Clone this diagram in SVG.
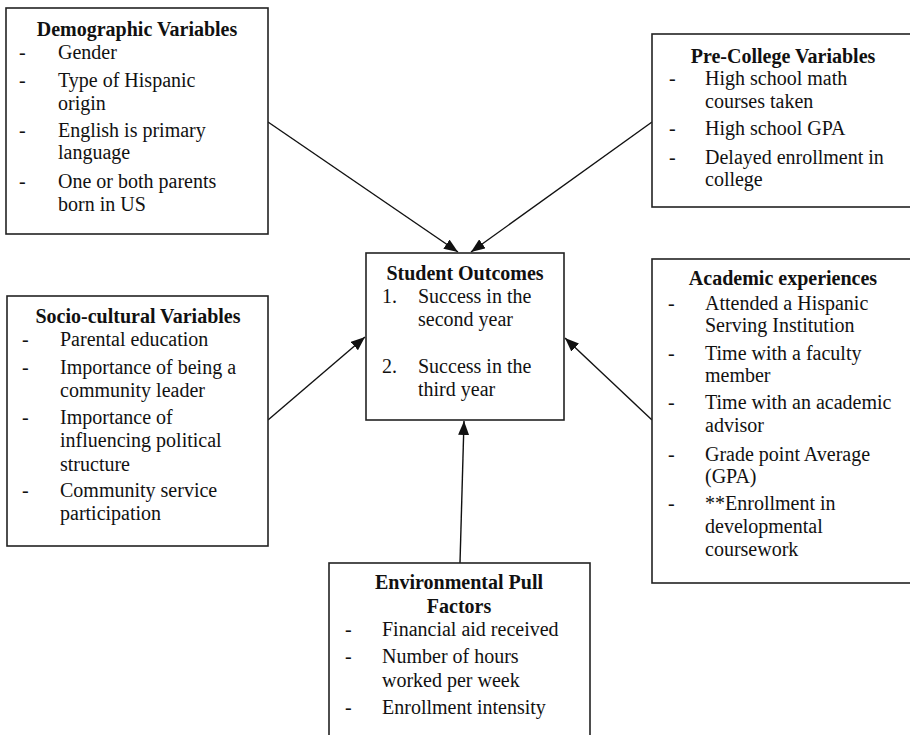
<svg xmlns="http://www.w3.org/2000/svg" width="910" height="735" viewBox="0 0 910 735">
<defs>
<style>
.box{fill:#fff;stroke:#222;stroke-width:1.6}
.t{font-family:"Liberation Serif","Times New Roman",serif;font-size:20px;fill:#111}
.h{font-weight:bold;text-anchor:middle}
.c{stroke:#111;stroke-width:1.4;fill:none;marker-end:url(#ah)}
</style>
<marker id="ah" markerUnits="userSpaceOnUse" markerWidth="15" markerHeight="11" refX="14" refY="5.5" orient="auto">
<path d="M0,0 L14,5.5 L0,11 z" fill="#111"/>
</marker>
</defs>
<rect width="910" height="735" fill="#fff"/>
<g id="connectors">
<line class="c" x1="268" y1="122" x2="458" y2="252"/>
<line class="c" x1="652" y1="122" x2="471" y2="252"/>
<line class="c" x1="268" y1="420" x2="365" y2="337"/>
<line class="c" x1="652" y1="420" x2="565" y2="338"/>
<line class="c" x1="460" y1="563" x2="464" y2="421"/>
</g>
<g id="demographic">
<rect class="box" x="6" y="8" width="262" height="226"/>
<text class="t h" x="137" y="36">Demographic Variables</text>
<text class="t" x="19" y="59">-</text><text class="t" x="58" y="59">Gender</text>
<text class="t" x="19" y="87">-</text><text class="t" x="58" y="87">Type of Hispanic</text>
<text class="t" x="58" y="110">origin</text>
<text class="t" x="19" y="137">-</text><text class="t" x="58" y="137">English is primary</text>
<text class="t" x="58" y="159">language</text>
<text class="t" x="19" y="188">-</text><text class="t" x="58" y="188">One or both parents</text>
<text class="t" x="58" y="211">born in US</text>
</g>
<g id="precollege">
<rect class="box" x="652" y="34" width="262" height="173"/>
<text class="t h" x="783" y="63">Pre-College Variables</text>
<text class="t" x="669" y="85">-</text><text class="t" x="705" y="85">High school math</text>
<text class="t" x="705" y="108">courses taken</text>
<text class="t" x="669" y="135">-</text><text class="t" x="705" y="135">High school GPA</text>
<text class="t" x="669" y="164">-</text><text class="t" x="705" y="164">Delayed enrollment in</text>
<text class="t" x="705" y="186">college</text>
</g>
<g id="outcomes">
<rect class="box" x="366" y="253" width="198" height="167"/>
<text class="t h" x="465" y="280">Student Outcomes</text>
<text class="t" x="382" y="303">1.</text><text class="t" x="418" y="303">Success in the</text>
<text class="t" x="418" y="326">second year</text>
<text class="t" x="382" y="373">2.</text><text class="t" x="418" y="373">Success in the</text>
<text class="t" x="418" y="396">third year</text>
</g>
<g id="sociocultural">
<rect class="box" x="7" y="296" width="261" height="250"/>
<text class="t h" x="138" y="323">Socio-cultural Variables</text>
<text class="t" x="22" y="346">-</text><text class="t" x="60" y="346">Parental education</text>
<text class="t" x="22" y="374">-</text><text class="t" x="60" y="374">Importance of being a</text>
<text class="t" x="60" y="397">community leader</text>
<text class="t" x="22" y="424">-</text><text class="t" x="60" y="424">Importance of</text>
<text class="t" x="60" y="447">influencing political</text>
<text class="t" x="60" y="471">structure</text>
<text class="t" x="22" y="497">-</text><text class="t" x="60" y="497">Community service</text>
<text class="t" x="60" y="520">participation</text>
</g>
<g id="academic">
<rect class="box" x="652" y="259" width="262" height="324"/>
<text class="t h" x="783" y="285">Academic experiences</text>
<text class="t" x="668" y="310">-</text><text class="t" x="705" y="310">Attended a Hispanic</text>
<text class="t" x="705" y="332">Serving Institution</text>
<text class="t" x="668" y="360">-</text><text class="t" x="705" y="360">Time with a faculty</text>
<text class="t" x="705" y="382">member</text>
<text class="t" x="668" y="409">-</text><text class="t" x="705" y="409">Time with an academic</text>
<text class="t" x="705" y="432">advisor</text>
<text class="t" x="668" y="461">-</text><text class="t" x="705" y="461">Grade point Average</text>
<text class="t" x="705" y="483">(GPA)</text>
<text class="t" x="668" y="510">-</text><text class="t" x="705" y="510">**Enrollment in</text>
<text class="t" x="705" y="533">developmental</text>
<text class="t" x="705" y="556">coursework</text>
</g>
<g id="environmental">
<rect class="box" x="329" y="563" width="261" height="180"/>
<text class="t h" x="459" y="589">Environmental Pull</text>
<text class="t h" x="459" y="613">Factors</text>
<text class="t" x="345" y="636">-</text><text class="t" x="382" y="636">Financial aid received</text>
<text class="t" x="345" y="663">-</text><text class="t" x="382" y="663">Number of hours</text>
<text class="t" x="382" y="687">worked per week</text>
<text class="t" x="345" y="714">-</text><text class="t" x="382" y="714">Enrollment intensity</text>
</g>
</svg>
